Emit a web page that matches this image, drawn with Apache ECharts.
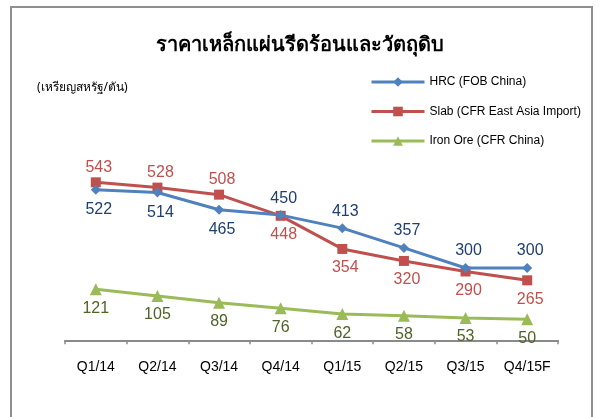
<!DOCTYPE html>
<html>
<head>
<meta charset="utf-8">
<script src="https://cdn.jsdelivr.net/npm/echarts@6/dist/echarts.min.js"></script>
<style>
  html, body { margin: 0; padding: 0; background: #fff; }
  #chart { width: 600px; height: 417px; }
</style>
</head>
<body>
<div id="chart"></div>
<script>
// ข้อมูลราคา (เหรียญสหรัฐ/ตัน)
const quarters = ['Q1/14', 'Q2/14', 'Q3/14', 'Q4/14', 'Q1/15', 'Q2/15', 'Q3/15', 'Q4/15F'];
const hrcValues = [522, 514, 465, 450, 413, 357, 300, 300];
const slabValues = [543, 528, 508, 448, 354, 320, 290, 265];
const ironOreValues = [121, 105, 89, 76, 62, 58, 53, 50];

// ตำแหน่งป้ายตัวเลข
const hrcLabelPos = ['bottom', 'bottom', 'bottom', 'top', 'top', 'top', 'top', 'top'];
const slabLabelPos = ['top', 'top', 'top', 'bottom', 'bottom', 'bottom', 'bottom', 'bottom'];

const chart = echarts.init(document.getElementById('chart'));

function withLabels(values, positions, aboveDist, belowDist) {
  return values.map((v, i) => ({
    value: v,
    label: {
      position: positions[i],
      distance: positions[i] === 'top' ? aboveDist : belowDist,
      offset: [3, 0]
    }
  }));
}

const labelFont = { fontFamily: 'Liberation Sans, Arial, sans-serif', fontSize: 16 };

const option = {
  animation: false,
  textStyle: { fontFamily: 'Liberation Sans, Arial, sans-serif' },
  title: {
    text: 'ราคาเหล็กแผ่นรีดร้อนและวัตถุดิบ',
    left: 'center',
    top: 30,
    textStyle: { fontSize: 20, fontWeight: 'bold', color: '#000', fontFamily: 'Noto Sans, DejaVu Sans, sans-serif' }
  },
  graphic: [
    {
      type: 'rect',
      shape: { x: 11, y: 7, width: 581, height: 420 },
      style: { fill: 'none', stroke: '#8f8f8f', lineWidth: 2 },
      silent: true
    },
    {
      type: 'text',
      left: 37,
      top: 82,
      style: { text: '(เหรียญสหรัฐ/ตัน)', fontSize: 12, fill: '#000', fontFamily: 'Noto Sans, DejaVu Sans, sans-serif' }
    }
  ],
  legend: {
    orient: 'vertical',
    left: 370,
    top: 76,
    padding: 0,
    itemWidth: 53,
    itemHeight: 12,
    itemGap: 17.5,
    lineStyle: { width: 3 },
    textStyle: { fontSize: 12, color: '#000' },
    data: ['HRC (FOB China)', 'Slab (CFR East Asia Import)', 'Iron Ore (CFR China)']
  },
  grid: { left: 65, right: 42, top: 60, bottom: 75 },
  xAxis: {
    type: 'category',
    data: quarters,
    boundaryGap: true,
    axisLine: { lineStyle: { color: '#8a8a8a', width: 2 } },
    axisTick: { show: true, length: 4, lineStyle: { color: '#8a8a8a', width: 1.5 } },
    axisLabel: { color: '#000', fontSize: 14, margin: 18 }
  },
  yAxis: [
    { type: 'value', min: 90, max: 890, show: false, splitLine: { show: false } },
    { type: 'value', min: -4, max: 663, show: false, splitLine: { show: false } }
  ],
  series: [
    {
      name: 'HRC (FOB China)',
      type: 'line',
      yAxisIndex: 0,
      data: withLabels(hrcValues, hrcLabelPos, 4, 7),
      symbol: 'diamond',
      symbolSize: 10,
      lineStyle: { color: '#4F81BD', width: 3 },
      itemStyle: { color: '#4F81BD' },
      label: Object.assign({ show: true, color: '#1F3F6E' }, labelFont),
      z: 3
    },
    {
      name: 'Slab (CFR East Asia Import)',
      type: 'line',
      yAxisIndex: 0,
      data: withLabels(slabValues, slabLabelPos, 2, 6),
      symbol: 'rect',
      symbolSize: 10,
      lineStyle: { color: '#C0504D', width: 3 },
      itemStyle: { color: '#C0504D' },
      label: Object.assign({ show: true, color: '#C0504D' }, labelFont),
      z: 2
    },
    {
      name: 'Iron Ore (CFR China)',
      type: 'line',
      yAxisIndex: 1,
      data: ironOreValues,
      symbol: 'triangle',
      symbolSize: 12,
      lineStyle: { color: '#9BBB59', width: 3 },
      itemStyle: { color: '#9BBB59' },
      label: Object.assign({ show: true, position: 'bottom', distance: 5, color: '#4F6228' }, labelFont),
      z: 2
    }
  ]
};

chart.setOption(option);
</script>
</body>
</html>
